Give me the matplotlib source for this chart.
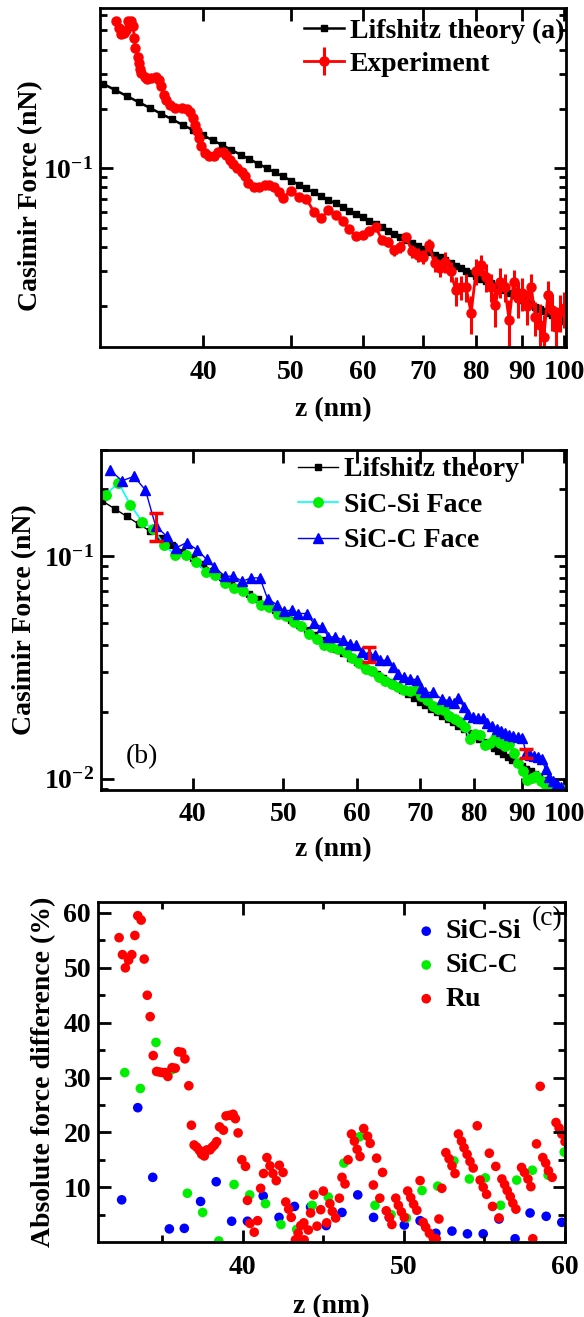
import matplotlib
matplotlib.use("Agg")
import numpy as np
import matplotlib.pyplot as plt
import matplotlib.ticker as mticker

plt.rcParams['font.family'] = ['Liberation Serif', 'DejaVu Serif']
plt.rcParams['font.weight'] = 'bold'
plt.rcParams['mathtext.fontset'] = 'custom'
plt.rcParams['mathtext.rm'] = 'Liberation Serif:bold'
plt.rcParams['mathtext.bf'] = 'Liberation Serif:bold'
plt.rcParams['axes.linewidth'] = 2

# ---------------- panel (a) data ----------------
theory_a_z = list(range(31, 101))
theory_a_F = [0.2692, 0.2496, 0.2321, 0.2162, 0.2018, 0.1888, 0.1770, 0.1661, 0.1562, 0.1471,
              0.1388, 0.1311, 0.1239, 0.1173, 0.1112, 0.1056, 0.1004, 0.0955, 0.0909, 0.0867,
              0.0827, 0.0790, 0.0755, 0.0722, 0.0692, 0.0663, 0.0635, 0.0610, 0.0586, 0.0563,
              0.0541, 0.0521, 0.0501, 0.0483, 0.0466, 0.0449, 0.0433, 0.0418, 0.0404, 0.0390,
              0.0378, 0.0365, 0.0354, 0.0342, 0.0332, 0.0321, 0.0311, 0.0302, 0.0293, 0.0285,
              0.0276, 0.0268, 0.0261, 0.0253, 0.0246, 0.0240, 0.0233, 0.0227, 0.0221, 0.0215,
              0.0210, 0.0204, 0.0199, 0.0194, 0.0189, 0.0185, 0.0180, 0.0176, 0.0172, 0.0168]

exp_z = [32.1, 32.3, 32.5, 32.7, 32.9, 33.1, 33.3, 33.5, 33.6, 33.7, 33.9, 34.0, 34.1, 34.2,
         34.5, 34.7, 35.1, 35.5, 35.8, 36.0, 36.2, 36.4, 36.8, 37.3, 37.9, 38.4, 38.7, 39.0,
         39.2, 39.4, 39.6, 39.8, 40.2, 40.6, 41.1, 41.6, 42.1, 42.4, 42.8, 43.2, 43.6, 44.2,
         44.5, 44.9, 45.5, 46.1, 46.8, 47.3, 47.9, 48.5, 49.0,
         50, 51, 52, 53, 54, 55, 56, 57, 58, 59, 60, 61, 62, 63, 64, 65, 66, 67, 68, 69,
         70, 71, 72, 73, 74, 75, 76, 77, 78, 79, 80, 81, 82, 83, 84, 85, 86, 87, 88, 89,
         90, 91, 92, 93, 94, 95, 96, 97, 98, 99, 100]
exp_F = [0.560, 0.513, 0.479, 0.484, 0.504, 0.556, 0.560, 0.530, 0.457, 0.407, 0.369, 0.341,
         0.319, 0.304, 0.292, 0.284, 0.288, 0.292, 0.281, 0.260, 0.236, 0.222, 0.210, 0.202,
         0.203, 0.200, 0.192, 0.179, 0.166, 0.154, 0.142, 0.129, 0.119, 0.115, 0.115, 0.121,
         0.121, 0.117, 0.110, 0.105, 0.100, 0.096, 0.091, 0.084, 0.080, 0.080, 0.082, 0.082,
         0.080, 0.076, 0.071,
         0.0770, 0.0718, 0.0700, 0.0602, 0.0557, 0.0614, 0.0580, 0.0540, 0.0490, 0.0455,
         0.0459, 0.0480, 0.0505, 0.0433, 0.0424, 0.0385, 0.0400, 0.0446, 0.0380, 0.0365,
         0.0356, 0.0408, 0.0329, 0.0311, 0.0336, 0.0300, 0.0240, 0.0250, 0.0250, 0.0184,
         0.0300, 0.0323, 0.0282, 0.0250, 0.0202, 0.0266, 0.0250, 0.0170, 0.0266, 0.0220,
         0.0233, 0.0200, 0.0251, 0.0176, 0.0160, 0.0140, 0.0228, 0.0190, 0.0157, 0.0187,
         0.0195]
exp_err = [0.0] * 51 + [0.0] * 10 + \
          [0.0020, 0.0020, 0.0025, 0.0020, 0.0025, 0.0025, 0.0030, 0.0025, 0.0030,
           0.0030, 0.0030, 0.0030, 0.0030, 0.0030, 0.0040, 0.0035, 0.0040, 0.0035, 0.0040,
           0.0040, 0.0045, 0.0040, 0.0045, 0.0040, 0.0045, 0.0045, 0.0040, 0.0045, 0.0040,
           0.0045, 0.0045, 0.0040, 0.0040, 0.0035, 0.0045, 0.0040, 0.0040, 0.0040, 0.0040,
           0.0040, 0.0040]

# ---------------- panel (b) data ----------------
theory_b_z = list(range(32, 101))
theory_b_F = [0.1769, 0.1631, 0.1507, 0.1395, 0.1295, 0.1204, 0.1122, 0.1047, 0.0979, 0.0917,
              0.0861, 0.0809, 0.0761, 0.0717, 0.0676, 0.0639, 0.0604, 0.0572, 0.0542, 0.0514,
              0.0489, 0.0465, 0.0442, 0.0421, 0.0402, 0.0383, 0.0366, 0.0350, 0.0334, 0.0320,
              0.0307, 0.0294, 0.0282, 0.0271, 0.0260, 0.0250, 0.0240, 0.0231, 0.0222, 0.0214,
              0.0206, 0.0199, 0.0192, 0.0185, 0.0179, 0.0173, 0.0167, 0.0161, 0.0156, 0.0151,
              0.0146, 0.0142, 0.0137, 0.0133, 0.0129, 0.0125, 0.0121, 0.0118, 0.0114, 0.0111,
              0.0108, 0.0105, 0.0102, 0.0099, 0.0096, 0.0094, 0.0091, 0.0089, 0.0086]

si_face_z = [32.3 + k for k in range(68)]
si_face_F = [0.189, 0.214, 0.170, 0.143, 0.132, 0.112, 0.101, 0.101, 0.0943, 0.0850,
             0.0821, 0.0758, 0.0719, 0.0700, 0.0649, 0.0605, 0.0588, 0.0549, 0.0536, 0.0508,
             0.0485, 0.0448, 0.0426, 0.0400, 0.0390, 0.0382, 0.0372, 0.0350, 0.0332, 0.0312,
             0.0306, 0.0285, 0.0276, 0.0266, 0.0258, 0.0250, 0.0248, 0.0250, 0.0236, 0.0225,
             0.0212, 0.0205, 0.0203, 0.0192, 0.0185, 0.0180, 0.0170, 0.0150, 0.0158, 0.0157,
             0.0141, 0.0145, 0.0152, 0.0145, 0.0140, 0.0143, 0.0130, 0.0118, 0.0108, 0.0099,
             0.0101, 0.0103, 0.0098, 0.0095, 0.0092, 0.0092, 0.0090, 0.0090]

c_face_z = [32.6, 33.6, 34.6, 35.6, 36.5, 37.5, 38.4, 39.4, 40.4, 41.4, 42.2, 43.3, 44.2, 45.2,
            46.2, 47.2, 48.1, 49.2, 50.1, 51.1, 51.9, 53.0, 53.9, 55.0, 55.9, 56.8, 57.9, 58.9,
            59.8, 60.7, 61.7, 62.7, 63.5, 64.6, 65.6, 66.4, 67.3, 68.4, 69.5, 70.3, 71.0, 72.4,
            73.9, 75.2, 76.1, 77.0, 78.0, 78.9, 79.9, 80.8, 81.8, 82.7, 83.6, 84.6, 85.5, 86.4,
            87.3, 88.2, 89.2, 90.1, 91.0, 91.9, 92.8, 93.7, 94.6, 95.5, 96.4, 97.3, 98.2, 99.1]
c_face_F = [0.244, 0.218, 0.228, 0.198, 0.1366, 0.123, 0.109, 0.115, 0.107, 0.0966, 0.0892,
            0.0812, 0.0812, 0.0771, 0.0798, 0.0798, 0.0644, 0.0605, 0.0568, 0.0571, 0.0552,
            0.0552, 0.0498, 0.0481, 0.0433, 0.0433, 0.0421, 0.0404, 0.0397, 0.0370, 0.0364,
            0.0358, 0.0340, 0.0340, 0.0318, 0.0296, 0.0286, 0.0281, 0.0278, 0.0255, 0.0244,
            0.0244, 0.0228, 0.0224, 0.0218, 0.0230, 0.0210, 0.0195, 0.0190, 0.0187, 0.0188,
            0.0178, 0.0173, 0.0168, 0.0163, 0.0160, 0.0157, 0.0155, 0.0154, 0.0153, 0.0131,
            0.0128, 0.0127, 0.0125, 0.0122, 0.0110, 0.0102, 0.0098, 0.0095, 0.0092]

bar_z = [36.5, 61.7, 91.0]
bar_F = [0.1366, 0.0364, 0.0130]
bar_err = [0.020, 0.0028, 0.0006]

# ---------------- panel (c) data ----------------
ru_z = [32.31, 32.52, 32.70, 32.90, 33.10, 33.29, 33.47, 33.68, 33.87, 34.06, 34.24, 34.43,
        34.64, 34.82, 35.00, 35.18, 35.34, 35.60, 35.80, 35.99, 36.20, 36.40, 36.64, 36.80,
        36.97, 37.13, 37.30, 37.44, 37.60, 37.76, 37.95, 38.09, 38.23, 38.37, 38.55, 38.79,
        38.95, 39.16, 39.39, 39.53, 39.70, 39.93, 40.16, 40.28, 40.44, 40.70, 40.91, 41.10,
        41.28, 41.49, 41.68, 41.86, 42.07, 42.26, 42.49, 42.66, 42.84, 43.00, 43.26, 43.43,
        43.59, 43.78, 43.80, 44.06, 44.20, 44.40, 44.60, 44.83, 44.99, 45.20, 45.40, 45.55,
        45.76, 45.99, 46.15, 46.34, 46.53, 46.74, 46.92, 47.09, 47.27, 47.50, 47.74, 47.90,
        48.10, 48.30, 48.50, 48.67, 48.90, 49.09, 49.25, 49.49, 49.65, 49.84, 50.02, 50.23,
        50.42, 50.60, 50.80, 51.00, 51.19, 51.35, 51.58, 51.82, 52.00, 52.17, 52.35, 52.60,
        52.80, 52.98, 53.17, 53.38, 53.57, 53.73, 53.92, 54.10, 54.30, 54.55, 54.73, 54.92,
        55.13, 55.30, 55.50, 55.70, 55.90, 56.08, 56.25, 56.41, 56.60, 56.76, 56.95, 57.30,
        57.48, 57.70, 57.88, 58.00, 58.23, 58.46, 58.62, 58.80, 58.97, 59.20, 59.44, 59.63,
        59.80, 60.00]
ru_d = [55.5, 52.4, 50.0, 51.4, 52.4, 55.9, 59.5, 58.7, 51.6, 45.0, 41.1, 34.0,
        31.1, 31.0, 30.9, 30.9, 30.2, 31.8, 31.7, 34.7, 34.6, 33.4, 28.5, 21.3,
        17.7, 17.3, 16.7, 16.0, 15.7, 16.8, 16.8, 17.3, 17.7, 18.3, 21.0, 20.4,
        23.0, 23.1, 23.3, 22.5, 19.9, 15.0, 13.8, 7.6, 3.4, 1.8, 3.9, 9.8,
        12.5, 15.4, 13.9, 12.5, 11.2, 14.0, 12.7, 7.3, 6.0, 4.5, 0.4, 1.6,
        3.0, 3.5, 0.4, 2.2, 5.3, 8.6, 2.9, 5.9, 9.3, 3.5, 7.0, 5.6,
        4.4, 8.0, 11.8, 10.6, 15.0, 19.7, 18.4, 16.9, 15.6, 20.7, 19.3, 18.0,
        10.4, 15.3, 8.0, 12.7, 5.7, 4.5, 3.2, 8.0, 6.7, 5.5, 4.5, 9.3,
        8.1, 6.9, 5.8, 11.2, 3.6, 2.7, 1.6, 0.7, 0.6, 4.2, 9.8, 16.3,
        15.2, 13.9, 12.5, 19.7, 18.4, 17.2, 16.0, 14.7, 13.5, 21.2, 11.3, 10.0,
        8.7, 16.2, 6.5, 13.8, 4.4, 11.5, 10.5, 9.4, 8.3, 7.1, 6.0, 13.6,
        12.7, 11.5, 10.1, 0.6, 17.9, 28.4, 15.4, 14.4, 13.0, 11.8, 21.8, 20.8,
        19.7, 18.3]

sic_c_z = [32.66, 33.63, 34.60, 35.58, 36.55, 37.50, 38.50, 39.45, 40.42, 41.40, 42.36, 43.34,
           44.30, 45.30, 46.27, 47.25, 48.20, 49.20, 50.15, 51.12, 52.10, 53.10, 54.06, 55.05,
           56.00, 57.00, 57.97, 58.95, 59.95]
sic_c_d = [30.9, 28.0, 36.4, 31.4, 8.9, 5.4, 0.2, 10.5, 8.6, 7.0, 3.2, 2.3,
           6.7, 8.2, 14.4, 19.2, 6.7, 5.0, 4.4, 9.4, 10.2, 14.8, 11.5, 11.7,
           6.7, 11.3, 13.1, 12.2, 16.4]

sic_si_z = [32.47, 33.47, 34.40, 35.43, 36.36, 37.37, 38.34, 39.30, 40.28, 41.26, 42.24, 43.20,
            44.20, 45.17, 46.15, 47.13, 48.11, 49.09, 50.02, 51.00, 51.98, 52.98, 53.94, 54.92,
            55.90, 56.90, 57.83, 58.83, 59.80]
sic_si_d = [7.7, 24.5, 11.8, 2.4, 2.5, 7.4, 11.0, 3.8, 3.8, 8.4, 4.5, 6.5,
            6.4, 3.0, 5.4, 8.6, 4.5, 4.5, 3.1, 3.9, 1.6, 2.0, 1.5, 1.5,
            4.2, 0.6, 5.3, 4.7, 3.6]

log_ticks = [40, 50, 60, 70, 80, 90, 100]
FS = 20


def style_axes(ax):
    ax.tick_params(which='both', direction='in', top=True, right=True, width=2)
    ax.tick_params(which='major', length=9, labelsize=FS)
    ax.tick_params(which='minor', length=5)
    ax.tick_params(axis='x', pad=9)
    ax.tick_params(axis='y', pad=5)


fig = plt.figure(figsize=(5.84, 13.17), dpi=100)
ax_a = fig.add_axes([0.1712, 0.7365, 0.7979, 0.2574])
ax_b = fig.add_axes([0.1729, 0.4002, 0.7962, 0.2582])
ax_c = fig.add_axes([0.1678, 0.0569, 0.7997, 0.2582])

# ---- (a)
ax_a.plot(theory_a_z, theory_a_F, '-s', color='black', lw=1.8, ms=5,
          label='Lifshitz theory (a)')
ax_a.errorbar(exp_z, exp_F, yerr=exp_err, fmt='-o', color='red', lw=2, ms=6.5,
              elinewidth=2.2, capsize=0, label='Experiment')
ax_a.set_xscale('log')
ax_a.set_yscale('log')
ax_a.set_xlim(30.8, 100.5)
ax_a.set_ylim(0.0124, 0.65)

# ---- (b)
ax_b.plot(theory_b_z, theory_b_F, '-s', color='black', lw=1, ms=4.5, label='Lifshitz theory')
ax_b.plot(si_face_z, si_face_F, '-o', color='cyan', mfc='#00ee00', mec='#00ee00', lw=1.2,
          ms=6.8, label='SiC-Si Face')
ax_b.plot(c_face_z, c_face_F, '-^', color='blue', mfc='blue', mec='blue', lw=1, ms=7,
          label='SiC-C Face')
ax_b.errorbar(bar_z, bar_F, yerr=bar_err, fmt='none', ecolor='red', elinewidth=2.2,
              capsize=5, capthick=2.5)
ax_b.set_xscale('log')
ax_b.set_yscale('log')
ax_b.set_xlim(31.9, 100.4)
ax_b.set_ylim(0.0089, 0.30)

for ax in (ax_a, ax_b):
    style_axes(ax)
    ax.set_xticks(log_ticks, labels=[str(t) for t in log_ticks])
    ax.xaxis.set_minor_locator(mticker.NullLocator())
    ax.yaxis.set_minor_locator(mticker.LogLocator(base=10, subs=np.arange(2, 10)))
    ax.yaxis.set_minor_formatter(mticker.NullFormatter())
    ax.set_xlabel('z (nm)', fontsize=FS, fontweight='bold')
    ax.set_ylabel('Casimir Force (nN)', fontsize=FS, fontweight='bold')

ax_a.set_yticks([0.1], labels=[r'$\mathbf{10^{-1}}$'])
ax_b.set_yticks([0.01, 0.1], labels=[r'$\mathbf{10^{-2}}$', r'$\mathbf{10^{-1}}$'])

ax_a.legend(loc='upper left', bbox_to_anchor=(0.438, 0.97), frameon=False,
            prop={'weight': 'bold', 'size': FS}, handlelength=1.45, handletextpad=0.2,
            labelspacing=0.28, borderpad=0, borderaxespad=0)
ax_b.legend(loc='upper left', bbox_to_anchor=(0.424, 0.979), frameon=False,
            prop={'weight': 'bold', 'size': FS}, handlelength=1.45, handletextpad=0.2,
            labelspacing=0.36, borderpad=0, borderaxespad=0)
ax_b.text(0.088, 0.097, '(b)', transform=ax_b.transAxes, fontsize=FS, fontweight='normal',
          ha='center', va='center')

ax_a.yaxis.set_label_coords(-0.122, 0.447)
ax_b.yaxis.set_label_coords(-0.138, 0.5)
ax_a.xaxis.set_label_coords(0.5, -0.148)
ax_b.xaxis.set_label_coords(0.5, -0.139)

# ---- (c)
ax_c.scatter(sic_si_z, sic_si_d, s=48, color='blue', edgecolors='none', label='SiC-Si')
ax_c.scatter(sic_c_z, sic_c_d, s=48, color='#00ee00', edgecolors='none', label='SiC-C')
ax_c.scatter(ru_z, ru_d, s=48, color='red', edgecolors='none', label='Ru')
ax_c.set_xlim(31, 60)
ax_c.set_ylim(0, 62)
style_axes(ax_c)
ax_c.set_xticks([40, 50, 60])
ax_c.set_xticks([35, 45, 55], minor=True)
ax_c.set_yticks([10, 20, 30, 40, 50, 60])
ax_c.set_yticks([5, 15, 25, 35, 45, 55], minor=True)
ax_c.set_xlabel('z (nm)', fontsize=FS, fontweight='bold')
ax_c.set_ylabel('Absolute force difference (%)', fontsize=FS, fontweight='bold')
ax_c.yaxis.set_label_coords(-0.09, 0.5)
ax_c.xaxis.set_label_coords(0.5, -0.153)
ax_c.legend(loc='upper left', bbox_to_anchor=(0.679, 0.95), frameon=False,
            prop={'weight': 'bold', 'size': FS}, handlelength=0.8, handletextpad=0.3,
            labelspacing=0.3, borderpad=0, borderaxespad=0, scatterpoints=1)
ax_c.text(0.961, 0.95, '(c)', transform=ax_c.transAxes, fontsize=FS, fontweight='normal',
          ha='center', va='center')

fig.savefig('out.png', dpi=100)
